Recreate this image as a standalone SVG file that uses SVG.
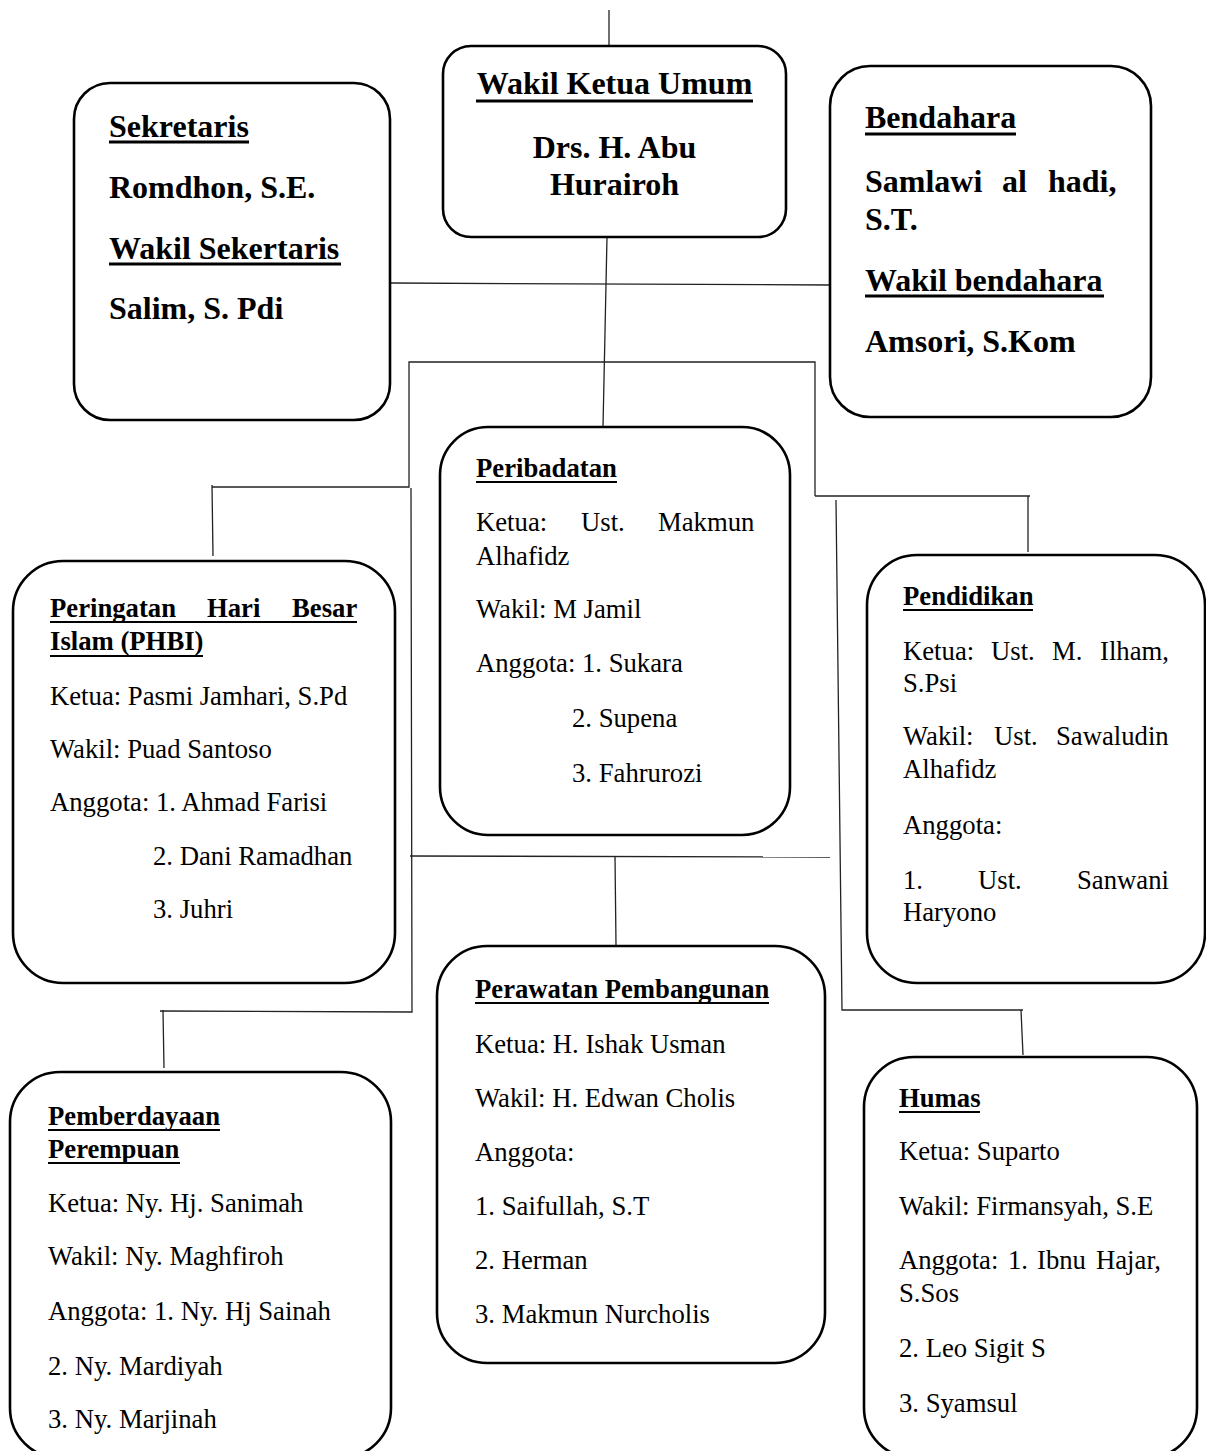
<svg xmlns="http://www.w3.org/2000/svg" width="1206" height="1451" viewBox="0 0 1206 1451">
<style>
.box{fill:#fff;stroke:#000;stroke-width:2.6}
.con{fill:none;stroke:#222;stroke-width:1.3}
.ul{stroke:#000}
.t32{font-family:"Liberation Serif","Times New Roman",serif;font-size:32px;font-weight:bold;fill:#000}
.h{font-family:"Liberation Serif","Times New Roman",serif;font-size:26.7px;font-weight:bold;fill:#000}
.b{font-family:"Liberation Serif","Times New Roman",serif;font-size:26.7px;fill:#000}
</style>
<rect width="1206" height="1451" fill="#fff"/>
<g id="connectors">
<line class="con" x1="609" y1="10" x2="609" y2="46"/>
<line class="con" x1="607" y1="237" x2="603" y2="427"/>
<line class="con" x1="391" y1="283" x2="830" y2="285"/>
<polyline class="con" points="815,496 815,362 409,362 409,487 212,487"/>
<line class="con" x1="212" y1="485" x2="213" y2="556"/>
<polyline class="con" points="411,488 412,1012 160,1011"/>
<line class="con" x1="163" y1="1010" x2="164" y2="1068"/>
<line class="con" x1="410" y1="856" x2="830" y2="857"/>
<line class="con" x1="615" y1="856" x2="616" y2="945"/>
<line class="con" x1="815" y1="496" x2="1030" y2="496"/>
<line class="con" x1="1028" y1="496" x2="1028" y2="552"/>
<polyline class="con" points="836,500 842,1010 1023,1010"/>
<line class="con" x1="1021" y1="1010" x2="1023" y2="1055"/>
</g>
<g id="wakil-ketua-umum">
<rect class="box" x="443" y="46" width="343" height="191" rx="28"/>
<text class="t32" x="614.5" y="94" text-anchor="middle">Wakil Ketua Umum</text>
<line class="ul" x1="476" y1="101" x2="753" y2="101" stroke-width="3"/>
<text class="t32" x="614.5" y="158" text-anchor="middle">Drs. H. Abu</text>
<text class="t32" x="614.5" y="195" text-anchor="middle">Hurairoh</text>
</g>
<g id="sekretaris">
<rect class="box" x="74" y="83" width="316" height="337" rx="36"/>
<text class="t32" x="109" y="137">Sekretaris</text>
<line class="ul" x1="109" y1="142" x2="249" y2="142" stroke-width="3"/>
<text class="t32" x="109" y="198">Romdhon, S.E.</text>
<text class="t32" x="109" y="259">Wakil Sekertaris</text>
<line class="ul" x1="109" y1="264" x2="341" y2="264" stroke-width="3"/>
<text class="t32" x="109" y="319">Salim, S. Pdi</text>
</g>
<g id="bendahara">
<rect class="box" x="830" y="66" width="321" height="351" rx="40"/>
<text class="t32" x="865" y="128">Bendahara</text>
<line class="ul" x1="865" y1="134" x2="1016" y2="134" stroke-width="3"/>
<text class="t32" y="192"><tspan x="865">Samlawi</tspan><tspan x="1002">al</tspan><tspan x="1048">hadi,</tspan></text>
<text class="t32" x="865" y="230">S.T.</text>
<text class="t32" x="865" y="291">Wakil bendahara</text>
<line class="ul" x1="865" y1="296" x2="1104" y2="296" stroke-width="3"/>
<text class="t32" x="865" y="352">Amsori, S.Kom</text>
</g>
<g id="peribadatan">
<rect class="box" x="440" y="427" width="350" height="408" rx="48"/>
<text class="h" x="476" y="477">Peribadatan</text>
<line class="ul" x1="476" y1="482" x2="617" y2="482" stroke-width="2.2"/>
<text class="b" y="531"><tspan x="476">Ketua:</tspan><tspan x="581">Ust.</tspan><tspan x="658">Makmun</tspan></text>
<text class="b" x="476" y="565">Alhafidz</text>
<text class="b" x="476" y="618">Wakil: M Jamil</text>
<text class="b" x="476" y="672">Anggota: 1. Sukara</text>
<text class="b" x="572" y="727">2. Supena</text>
<text class="b" x="572" y="782">3. Fahrurozi</text>
</g>
<g id="phbi">
<rect class="box" x="13" y="561" width="382" height="422" rx="50"/>
<text class="h" y="617"><tspan x="50">Peringatan</tspan><tspan x="207">Hari</tspan><tspan x="292">Besar</tspan></text>
<line class="ul" x1="50" y1="622" x2="357" y2="622" stroke-width="2.2"/>
<text class="h" x="50" y="650">Islam (PHBI)</text>
<line class="ul" x1="50" y1="656" x2="203" y2="656" stroke-width="2.2"/>
<text class="b" x="50" y="705">Ketua: Pasmi Jamhari, S.Pd</text>
<text class="b" x="50" y="758">Wakil: Puad Santoso</text>
<text class="b" x="50" y="811">Anggota: 1. Ahmad Farisi</text>
<text class="b" x="153" y="865">2. Dani Ramadhan</text>
<text class="b" x="153" y="918">3. Juhri</text>
</g>
<g id="pendidikan">
<rect class="box" x="867" y="555" width="338" height="428" rx="50"/>
<text class="h" x="903" y="605">Pendidikan</text>
<line class="ul" x1="903" y1="610" x2="1033" y2="610" stroke-width="2.2"/>
<text class="b" y="660"><tspan x="903">Ketua:</tspan><tspan x="991">Ust.</tspan><tspan x="1052">M.</tspan><tspan x="1100">Ilham,</tspan></text>
<text class="b" x="903" y="692">S.Psi</text>
<text class="b" y="745"><tspan x="903">Wakil:</tspan><tspan x="994">Ust.</tspan><tspan x="1056">Sawaludin</tspan></text>
<text class="b" x="903" y="778">Alhafidz</text>
<text class="b" x="903" y="834">Anggota:</text>
<text class="b" y="889"><tspan x="903">1.</tspan><tspan x="978">Ust.</tspan><tspan x="1077">Sanwani</tspan></text>
<text class="b" x="903" y="921">Haryono</text>
</g>
<g id="perawatan-pembangunan">
<rect class="box" x="437" y="946" width="388" height="417" rx="50"/>
<text class="h" x="475" y="998">Perawatan Pembangunan</text>
<line class="ul" x1="475" y1="1003" x2="769" y2="1003" stroke-width="2.2"/>
<text class="b" x="475" y="1053">Ketua: H. Ishak Usman</text>
<text class="b" x="475" y="1107">Wakil: H. Edwan Cholis</text>
<text class="b" x="475" y="1161">Anggota:</text>
<text class="b" x="475" y="1215">1. Saifullah, S.T</text>
<text class="b" x="475" y="1269">2. Herman</text>
<text class="b" x="475" y="1323">3. Makmun Nurcholis</text>
</g>
<g id="pemberdayaan-perempuan">
<rect class="box" x="10" y="1072" width="381" height="386" rx="50"/>
<text class="h" x="48" y="1125">Pemberdayaan</text>
<line class="ul" x1="48" y1="1130" x2="220" y2="1130" stroke-width="2.2"/>
<text class="h" x="48" y="1158">Perempuan</text>
<line class="ul" x1="48" y1="1163" x2="180" y2="1163" stroke-width="2.2"/>
<text class="b" x="48" y="1212">Ketua: Ny. Hj. Sanimah</text>
<text class="b" x="48" y="1265">Wakil: Ny. Maghfiroh</text>
<text class="b" x="48" y="1320">Anggota: 1. Ny. Hj Sainah</text>
<text class="b" x="48" y="1375">2. Ny. Mardiyah</text>
<text class="b" x="48" y="1428">3. Ny. Marjinah</text>
</g>
<g id="humas">
<rect class="box" x="864" y="1057" width="333" height="401" rx="50"/>
<text class="h" x="899" y="1107">Humas</text>
<line class="ul" x1="899" y1="1112" x2="980" y2="1112" stroke-width="2.2"/>
<text class="b" x="899" y="1160">Ketua: Suparto</text>
<text class="b" x="899" y="1215">Wakil: Firmansyah, S.E</text>
<text class="b" y="1269"><tspan x="899">Anggota:</tspan><tspan x="1008">1.</tspan><tspan x="1037">Ibnu</tspan><tspan x="1096">Hajar,</tspan></text>
<text class="b" x="899" y="1302">S.Sos</text>
<text class="b" x="899" y="1357">2. Leo Sigit S</text>
<text class="b" x="899" y="1412">3. Syamsul</text>
</g>
</svg>
